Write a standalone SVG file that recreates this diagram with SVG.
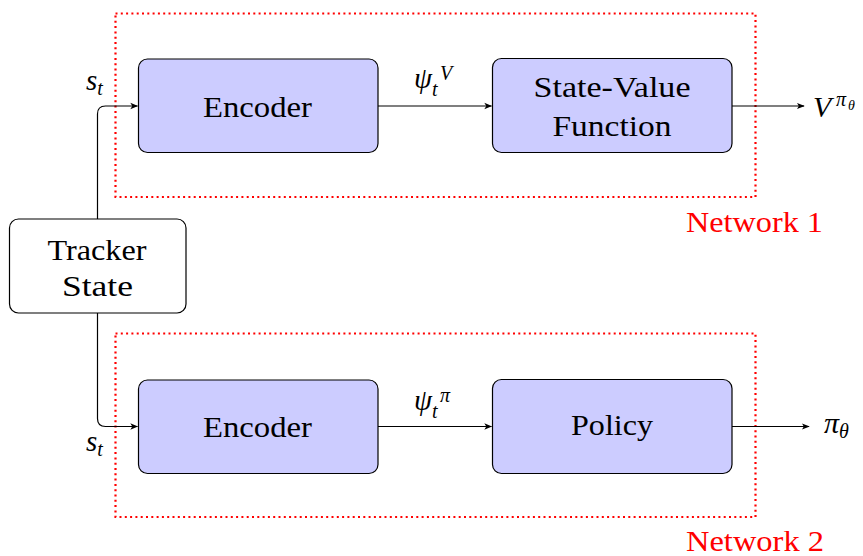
<svg xmlns="http://www.w3.org/2000/svg" width="863" height="556" viewBox="0 0 863 556">
<style>
.t{font-size:30px;fill:#000}
.m{font-style:italic;fill:#000}
.red{fill:#ff0000}
.box{fill:#ccccff;stroke:#000;stroke-width:1.2}
.wbox{fill:#fff;stroke:#000;stroke-width:1.2}
.net{fill:none;stroke:#ff0000;stroke-width:2.2;stroke-dasharray:2 3.3}
.c{fill:none;stroke:#000;stroke-width:1.2}
</style>
<defs>
<marker id="arr" viewBox="0 0 10 10" refX="9" refY="5" markerWidth="8" markerHeight="8" markerUnits="userSpaceOnUse" orient="auto">
<path d="M0,1 L10,5 L0,9 L2.5,5 Z" fill="#000"/>
</marker>
</defs>
<rect width="863" height="556" fill="#fff"/>
<g font-family="'Liberation Serif', 'DejaVu Serif', serif">
<g id="network1">
<rect class="net" x="115.5" y="13.5" width="640" height="183.5"/>
<text class="t red" x="686" y="231.5" textLength="137" lengthAdjust="spacingAndGlyphs">Network 1</text>
</g>
<g id="network2">
<rect class="net" x="115.5" y="333.5" width="640" height="183.5"/>
<text class="t red" x="686" y="550.5" textLength="138" lengthAdjust="spacingAndGlyphs">Network 2</text>
</g>
<g id="connectors">
<path class="c" d="M97.5 219 V114 Q97.5 106 105.5 106 H137.5" marker-end="url(#arr)"/>
<path class="c" d="M97.5 313 V418.5 Q97.5 426.5 105.5 426.5 H137.5" marker-end="url(#arr)"/>
<path class="c" d="M378 106 H491.5" marker-end="url(#arr)"/>
<path class="c" d="M732 106 H804" marker-end="url(#arr)"/>
<path class="c" d="M378 426.5 H491.5" marker-end="url(#arr)"/>
<path class="c" d="M732 426.5 H809" marker-end="url(#arr)"/>
</g>
<g id="tracker">
<rect class="wbox" x="9.5" y="219" width="176.5" height="94" rx="9"/>
<text class="t" x="47.5" y="260" textLength="99" lengthAdjust="spacingAndGlyphs">Tracker</text>
<text class="t" x="62" y="296" textLength="71" lengthAdjust="spacingAndGlyphs">State</text>
</g>
<g id="encoder1">
<rect class="box" x="138.5" y="59" width="239.5" height="93.5" rx="9"/>
<text class="t" x="203" y="116.5" textLength="109" lengthAdjust="spacingAndGlyphs">Encoder</text>
</g>
<g id="statevalue">
<rect class="box" x="492.5" y="58.5" width="239.5" height="94" rx="9"/>
<text class="t" x="533.5" y="97.3" textLength="157" lengthAdjust="spacingAndGlyphs">State-Value</text>
<text class="t" x="552.5" y="135.5" textLength="119" lengthAdjust="spacingAndGlyphs">Function</text>
</g>
<g id="encoder2">
<rect class="box" x="138.5" y="380" width="239.5" height="93.5" rx="9"/>
<text class="t" x="203" y="436.5" textLength="109" lengthAdjust="spacingAndGlyphs">Encoder</text>
</g>
<g id="policy">
<rect class="box" x="492.5" y="379.5" width="239.5" height="94" rx="9"/>
<text class="t" x="571" y="435" textLength="82" lengthAdjust="spacingAndGlyphs">Policy</text>
</g>
<g id="labels">
<text class="m" x="86" y="90" font-size="29">s<tspan font-size="20" dy="5">t</tspan></text>
<text class="m" x="86" y="451" font-size="29">s<tspan font-size="20" dy="5">t</tspan></text>
<text class="m" x="414" y="88" font-size="29">ψ<tspan font-size="20" x="432" y="96">t</tspan><tspan font-size="20" x="440" y="80">V</tspan></text>
<text class="m" x="414" y="410" font-size="29">ψ<tspan font-size="20" x="432" y="418">t</tspan><tspan font-size="20" x="440" y="402">π</tspan></text>
<text class="m" x="813" y="117" font-size="30">V<tspan font-size="20" x="836" y="106">π</tspan><tspan font-size="14" x="848" y="110">θ</tspan></text>
<text class="m" x="824" y="433" font-size="30">π<tspan font-size="20" x="839" y="438">θ</tspan></text>
</g>
</g>
</svg>
